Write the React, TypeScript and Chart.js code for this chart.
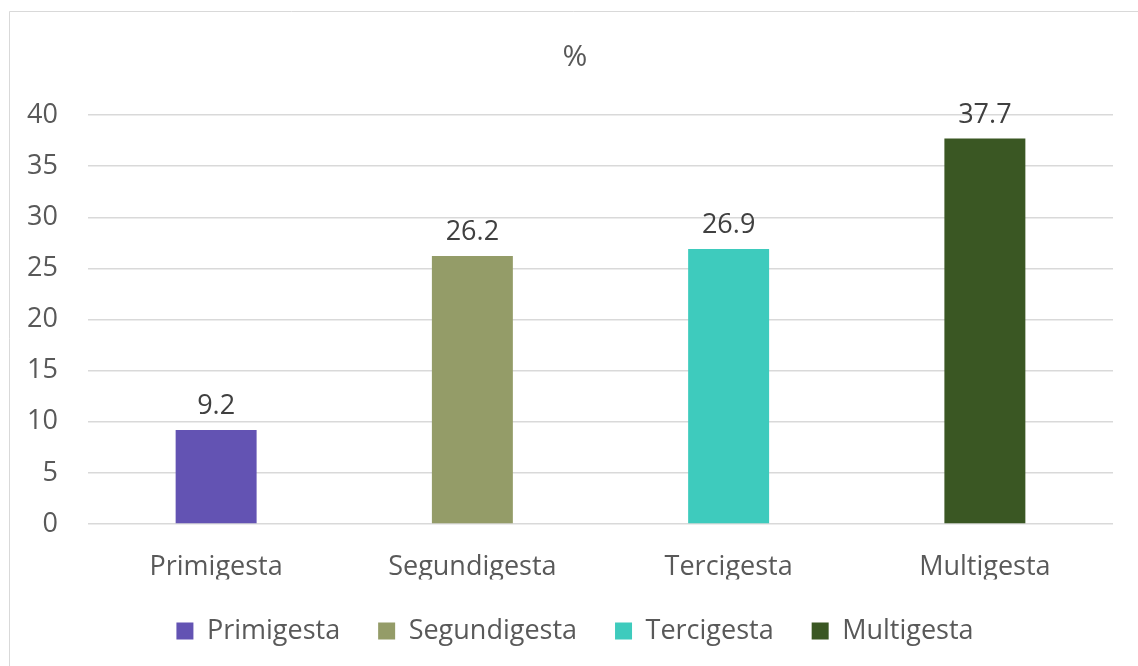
import React, { useEffect, useRef } from "react";
import { Chart, registerables } from "chart.js";

Chart.register(...registerables);

const categories = ["Primigesta", "Segundigesta", "Tercigesta", "Multigesta"];
const values = [9.2, 26.2, 26.9, 37.7];
const colors = ["#6353b3", "#949c68", "#3ecbbd", "#3a5723"];
const yTicks = [0, 5, 10, 15, 20, 25, 30, 35, 40];
const title = "%";

const FONT = "'Open Sans', 'Noto Sans', sans-serif";
const FS = 27;
const TFS = 30;

const framePlugin = {
  id: "frame",
  afterLayout(chart: any) {
    // let the y tick labels extend into the left padding without clipping
    if (chart.scales.y) chart.scales.y.left = 0;
  },
  beforeDraw(chart: any) {
    const ctx = chart.ctx;
    ctx.save();
    ctx.fillStyle = "#ffffff";
    ctx.fillRect(0, 0, chart.width, chart.height);
    ctx.strokeStyle = "#d9d9d9";
    ctx.lineWidth = 1;
    ctx.beginPath();
    ctx.moveTo(9.5, chart.height);
    ctx.lineTo(9.5, 11.5);
    ctx.lineTo(chart.width, 11.5);
    ctx.stroke();
    ctx.restore();
  },
};

const labelPlugin = {
  id: "barLabels",
  afterDatasetsDraw(chart: any) {
    const ctx = chart.ctx;
    const meta = chart.getDatasetMeta(0);
    ctx.save();
    ctx.font = `${FS}px ${FONT}`;
    ctx.fillStyle = "#404040";
    ctx.textAlign = "center";
    ctx.textBaseline = "alphabetic";
    meta.data.forEach((bar: any, i: number) => {
      ctx.fillText(String(values[i]), bar.x, bar.y - 16);
    });
    ctx.restore();
  },
};

export default function App() {
  const ref = useRef<HTMLCanvasElement | null>(null);
  useEffect(() => {
    if (!ref.current) return;
    const chart = new Chart(ref.current, {
      type: "bar",
      data: {
        labels: categories,
        datasets: [
          {
            label: title,
            data: values,
            backgroundColor: colors,
            borderWidth: 0,
            barPercentage: 0.316,
            categoryPercentage: 1,
          },
        ],
      },
      options: {
        responsive: true,
        maintainAspectRatio: false,
        animation: false,
        layout: { padding: { left: 37, right: 25, top: 39, bottom: 11.5 } },
        plugins: {
          title: {
            display: true,
            text: title,
            color: "#595959",
            font: { family: FONT, size: TFS, weight: "normal" },
            padding: { top: 0, bottom: 40 },
          },
          legend: {
            display: true,
            position: "bottom",
            labels: {
              color: "#595959",
              font: { family: FONT, size: FS },
              boxWidth: 17,
              boxHeight: 17,
              padding: 38,
              generateLabels: () =>
                categories.map((c, i) => ({
                  text: c,
                  fillStyle: colors[i],
                  strokeStyle: colors[i],
                  lineWidth: 0,
                  hidden: false,
                  index: i,
                  datasetIndex: 0,
                  fontColor: "#595959",
                })),
            },
          },
          tooltip: { enabled: false },
        },
        scales: {
          x: {
            grid: { display: false, drawTicks: false },
            border: { display: false },
            ticks: {
              color: "#595959",
              font: { family: FONT, size: FS },
              padding: 27,
            },
            afterFit: (s: any) => {
              s.height = 55.5;
            },
          },
          y: {
            min: 0,
            max: 40,
            afterBuildTicks: (axis: any) => {
              axis.ticks = yTicks.map((v) => ({ value: v }));
            },
            grid: { color: "#d9d9d9", lineWidth: 1.5, drawTicks: false },
            border: { display: false },
            ticks: {
              color: "#595959",
              font: { family: FONT, size: FS },
              padding: 30,
            },
            afterFit: (s: any) => {
              s.width = 51;
            },
          },
        },
      },
      plugins: [framePlugin, labelPlugin],
    });
    return () => chart.destroy();
  }, []);
  return (
    <div style={{ position: "fixed", left: 0, top: 0, width: 1138, height: 666 }}>
      <canvas ref={ref} />
    </div>
  );
}
